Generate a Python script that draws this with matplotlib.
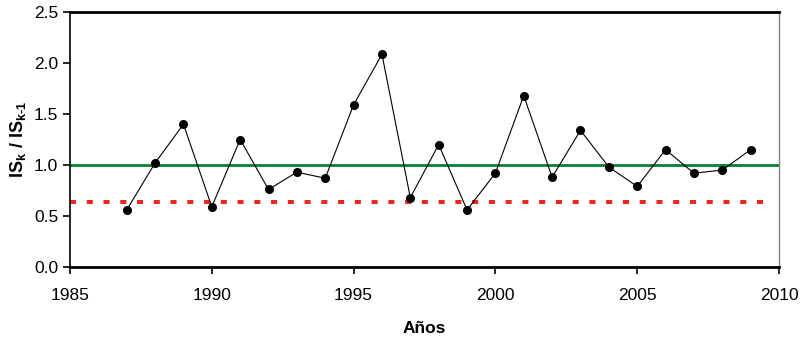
import matplotlib.pyplot as plt

plt.rcParams['font.family'] = ['Liberation Sans', 'DejaVu Sans']
plt.rcParams['mathtext.fontset'] = 'custom'
plt.rcParams['mathtext.rm'] = 'Liberation Sans:bold'
plt.rcParams['mathtext.it'] = 'Liberation Sans:bold'
plt.rcParams['mathtext.default'] = 'rm'

# years and ratio IS_k / IS_k-1
years = [1987, 1988, 1989, 1990, 1991, 1992, 1993, 1994, 1995, 1996, 1997, 1998,
         1999, 2000, 2001, 2002, 2003, 2004, 2005, 2006, 2007, 2008, 2009]
ratio = [0.56, 1.02, 1.40, 0.59, 1.25, 0.76, 0.93, 0.87, 1.59, 2.085, 0.68, 1.20,
         0.56, 0.92, 1.68, 0.88, 1.34, 0.98, 0.79, 1.15, 0.92, 0.95, 1.15]

reference_level = 1.0
threshold_level = 0.64
threshold_span = [1985, 2009.6]

fig = plt.figure(figsize=(8.02, 3.40), dpi=100)
ax = fig.add_axes([0.0873, 0.2147, 0.884, 0.75])

# horizontal reference lines
ax.axhline(reference_level, color='#008036', linewidth=2.0, zorder=2)
ax.plot(threshold_span, [threshold_level, threshold_level], color='#e8281e',
        linewidth=2.9, linestyle=(0, (1.5, 2.66)), zorder=2)

# the series
ax.plot(years, ratio, color='black', linewidth=0.8, marker='o',
        markersize=5.5, markerfacecolor='black', zorder=3)

ax.set_xlim(1985, 2010)
ax.set_ylim(0, 2.5)
ax.set_xticks(range(1985, 2011, 5))
ax.set_yticks([0.0, 0.5, 1.0, 1.5, 2.0, 2.5])
ax.set_yticklabels(['0.0', '0.5', '1.0', '1.5', '2.0', '2.5'])
ax.tick_params(direction='out', length=5, width=1.2, labelsize=12.5, colors='black')
ax.tick_params(axis='x', pad=10)

# frame
ax.spines['top'].set_linewidth(2)
ax.spines['bottom'].set_linewidth(2)
ax.spines['left'].set_linewidth(1.2)
ax.spines['right'].set_linewidth(1)
ax.spines['right'].set_color('#808080')

ax.set_xlabel('Años', fontsize=12.5, fontweight='bold', labelpad=13)
ax.set_ylabel(r'$IS_k\ /\ IS_{k\text{-}1}$', fontsize=13, labelpad=4)

fig.savefig('out.png', dpi=100)
